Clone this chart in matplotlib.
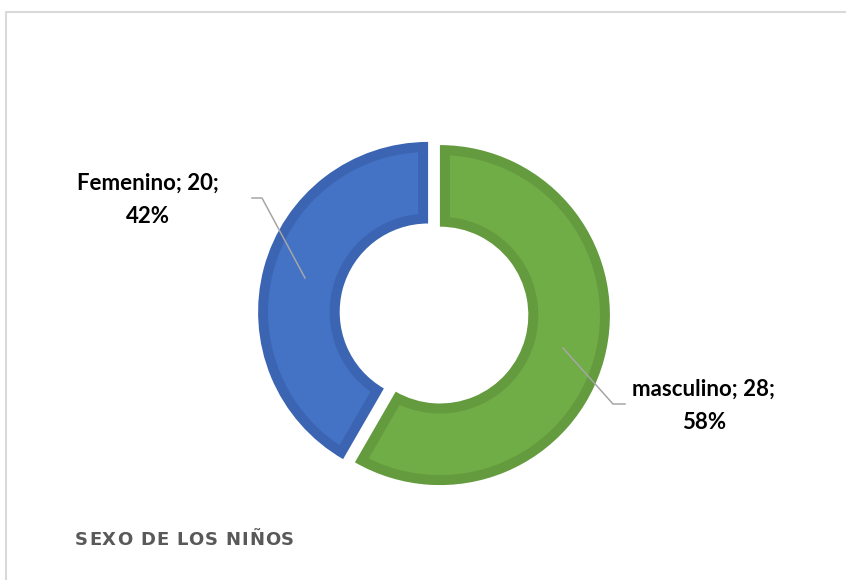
import numpy as np
import matplotlib
matplotlib.use("Agg")
import matplotlib.pyplot as plt
from matplotlib.patches import Polygon

categories = ["masculino", "Femenino"]
values = [28, 20]
fill_colors = ["#70AD47", "#4472C4"]
edge_colors = ["#639B3E", "#3B65B2"]
title = "SEXO DE LOS NIÑOS"

W, H = 846, 580
fig = plt.figure(figsize=(W / 100, H / 100), dpi=100)
ax = fig.add_axes([0, 0, 1, 1])

# pixel geometry -> data units (radius = 1)
cx, cy, R = 434, 313.5, 170.0
def px(x, y):
    return (x - cx) / R, (cy - y) / R

x0, y0 = px(0, H)
x1, y1 = px(W, 0)

# dark outer wedges (border colour), then inset lighter fill
wedges, _ = ax.pie(values, colors=edge_colors, startangle=90, counterclock=False,
                   radius=1.0, explode=[0.036, 0.036],
                   wedgeprops=dict(width=0.48, linewidth=0), frame=True)

d = 10.0 / R  # inner border thickness
for w, fc in zip(wedges, fill_colors):
    c = np.array(w.center)
    r_out, r_in = w.r, w.r - w.width
    t1, t2 = np.deg2rad(w.theta1), np.deg2rad(w.theta2)
    ro, ri = r_out - d, r_in + d
    ao = np.linspace(t1 + np.arcsin(d / ro), t2 - np.arcsin(d / ro), 200)
    ai = np.linspace(t2 - np.arcsin(d / ri), t1 + np.arcsin(d / ri), 200)
    pts = np.vstack([np.column_stack([c[0] + ro * np.cos(ao), c[1] + ro * np.sin(ao)]),
                     np.column_stack([c[0] + ri * np.cos(ai), c[1] + ri * np.sin(ai)])])
    ax.add_patch(Polygon(pts, closed=True, facecolor=fc, edgecolor="none", zorder=3))

total = sum(values)
labels = [f"{c}; {v};\n{round(100 * v / total)}%" for c, v in zip(categories, values)]

font = ["Lato", "DejaVu Sans"]
# masculino
ax.plot(*zip(px(563, 348), px(613, 404), px(625, 404)), color="#A6A6A6", lw=1.1, zorder=4)
ax.text(*px(704, 406), labels[0], ha="center", va="center", fontsize=16,
        fontweight="bold", family=font, color="#000000", linespacing=1.75)
# Femenino
ax.plot(*zip(px(305, 278), px(262, 198), px(252, 198)), color="#A6A6A6", lw=1.1, zorder=4)
ax.text(*px(148, 200), labels[1], ha="center", va="center", fontsize=16,
        fontweight="bold", family=font, color="#000000", linespacing=1.75)

# chart frame (left + top)
ax.plot(*zip(px(6, 580), px(6, 12), px(846, 12)), color="#D9D9D9", lw=1.5)
ax.set_xlim(x0, x1)
ax.set_ylim(y0, y1)
ax.axis("off")

# title with letter spacing
renderer = fig.canvas.get_renderer()
tfont = dict(fontsize=13, fontweight="bold", family=["DejaVu Sans"],
             color="#595959")
widths = []
for ch in title:
    t = fig.text(0, 0, ch, **tfont)
    widths.append(t.get_window_extent(renderer).width)
    t.remove()
target = 294 - 75
spacing = max(0.0, (target - sum(widths)) / (len(title) - 1))
xpix = 75.0
for ch, wdt in zip(title, widths):
    fig.text(xpix / W, 1 - 540 / H, ch, ha="left", va="center", **tfont)
    xpix += wdt + spacing

fig.savefig("out.png", dpi=100)
